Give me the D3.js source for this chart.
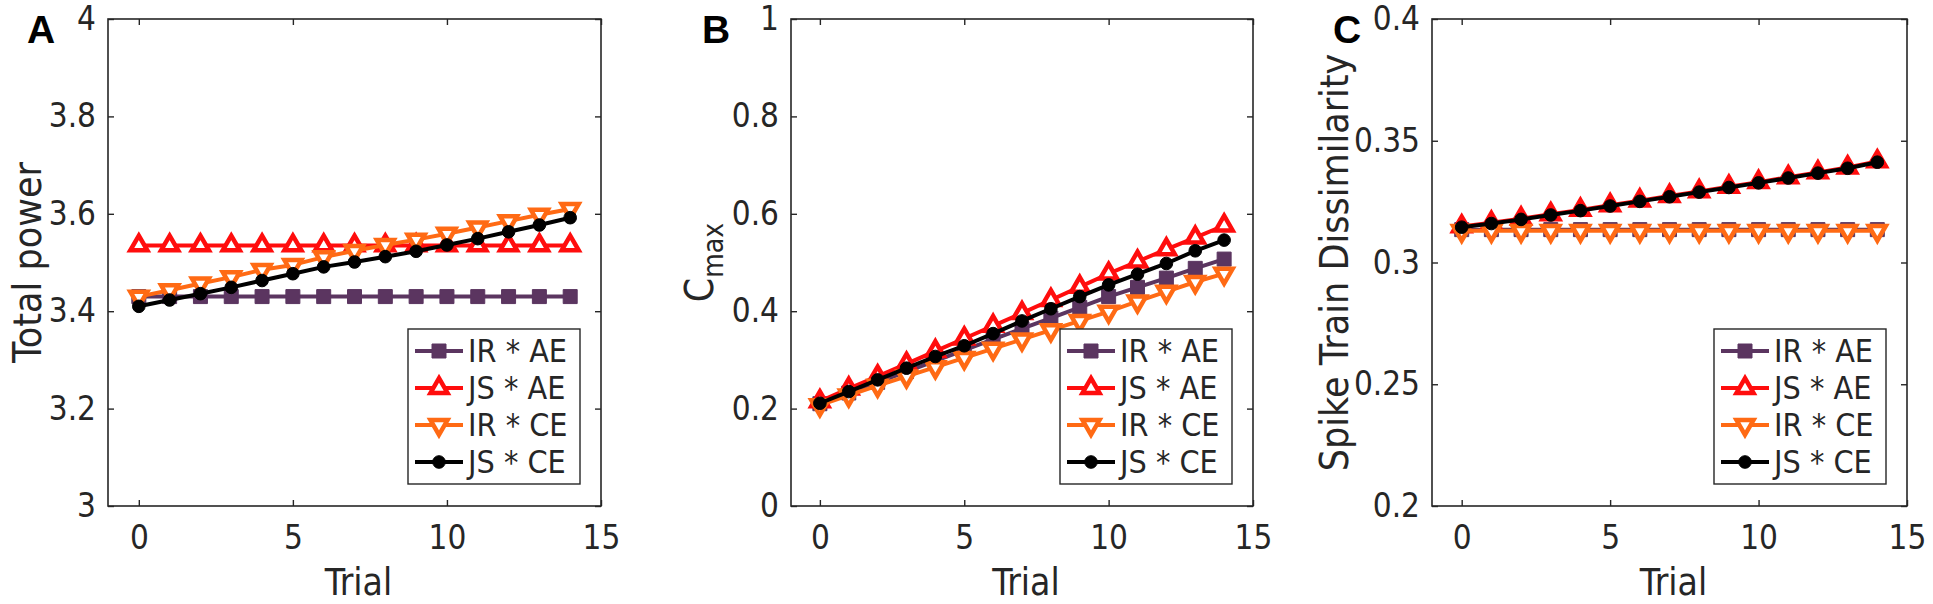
<!DOCTYPE html>
<html><head><meta charset="utf-8">
<script src="https://cdn.jsdelivr.net/npm/d3@7"></script>
<style>
body{margin:0;background:#fff;}
svg{display:block;}
text{font-family:"DejaVu Sans Condensed","DejaVu Sans",sans-serif;font-stretch:condensed;fill:#262626;}
.lbl{font-family:"Liberation Sans",Arial,sans-serif;font-weight:bold;fill:#000;font-stretch:normal;}
</style></head>
<body><svg id="c" width="1933" height="604"></svg>
<script>
// ---- data ----
const trials = [0,1,2,3,4,5,6,7,8,9,10,11,12,13,14];
const seriesNames = ["IR * AE","JS * AE","IR * CE","JS * CE"];
const seriesColors = ["#5b3560","#ff0d0d","#ff6a14","#000000"];
const seriesMarkers = ["square","triangleUp","triangleDown","circle"];

// Panel A: Total power
const powerIRAE = [3.43,3.43,3.43,3.43,3.43,3.43,3.43,3.43,3.43,3.43,3.43,3.43,3.43,3.43,3.43];
const powerJSAE = [3.535,3.535,3.535,3.535,3.535,3.535,3.535,3.535,3.535,3.535,3.535,3.535,3.535,3.535,3.535];
const powerIRCE = [3.43,3.443,3.457,3.47,3.485,3.495,3.511,3.524,3.536,3.547,3.559,3.572,3.585,3.598,3.61];
const powerJSCE = [3.41,3.423,3.436,3.449,3.463,3.477,3.491,3.501,3.512,3.523,3.536,3.549,3.563,3.577,3.592];

// Panel B: Cmax
const cmaxIRAE = [0.21,0.232,0.254,0.276,0.298,0.32,0.342,0.364,0.386,0.408,0.43,0.449,0.468,0.488,0.507];
const cmaxJSAE = [0.215,0.241,0.266,0.292,0.318,0.344,0.37,0.396,0.423,0.45,0.477,0.502,0.527,0.551,0.576];
const cmaxIRCE = [0.207,0.227,0.247,0.266,0.285,0.304,0.323,0.342,0.361,0.38,0.399,0.42,0.44,0.46,0.477];
const cmaxJSCE = [0.211,0.235,0.259,0.283,0.307,0.329,0.354,0.38,0.405,0.43,0.454,0.476,0.498,0.524,0.546];

// Panel C: Spike train dissimilarity
const stdIRAE = [0.3135,0.3135,0.3135,0.3135,0.3135,0.3135,0.3135,0.3135,0.3135,0.3135,0.3135,0.3135,0.3135,0.3135,0.3135];
const stdJSAE = [0.3148,0.3163,0.318,0.3198,0.3216,0.3235,0.3254,0.3273,0.3292,0.3311,0.333,0.335,0.337,0.339,0.3415];
const stdIRCE = [0.313,0.313,0.313,0.313,0.313,0.313,0.313,0.313,0.313,0.313,0.313,0.313,0.313,0.313,0.313];
const stdJSCE = [0.3145,0.316,0.3177,0.3195,0.3213,0.3232,0.3251,0.327,0.3289,0.3308,0.3327,0.3347,0.3367,0.3387,0.3412];

const xTicks = [0,5,10,15];
const yTicksA = [3,3.2,3.4,3.6,3.8,4];
const yTickLabelsA = ["3","3.2","3.4","3.6","3.8","4"];
const yTicksB = [0,0.2,0.4,0.6,0.8,1];
const yTickLabelsB = ["0","0.2","0.4","0.6","0.8","1"];
const yTicksC = [0.2,0.25,0.3,0.35,0.4];
const yTickLabelsC = ["0.2","0.25","0.3","0.35","0.4"];

// ---- layout ----
const plotTop = 19, plotBottom = 506;
const panels = [
  {letter:"A", left:108, right:601, yDom:[3,4], yt:yTicksA, ytl:yTickLabelsA,
   data:[powerIRAE,powerJSAE,powerIRCE,powerJSCE], ylab:"Total power", ylabX:41, letterX:27},
  {letter:"B", left:791, right:1253, yDom:[0,1], yt:yTicksB, ytl:yTickLabelsB,
   data:[cmaxIRAE,cmaxJSAE,cmaxIRCE,cmaxJSCE], ylab:"Cmax", ylabX:713, letterX:702},
  {letter:"C", left:1432, right:1907, yDom:[0.2,0.4], yt:yTicksC, ytl:yTickLabelsC,
   data:[stdIRAE,stdJSAE,stdIRCE,stdJSCE], ylab:"Spike Train Dissimilarity", ylabX:1348, letterX:1333}
];

const svg = d3.select("#c");
const axisColor = "#262626";

function markerPath(type){
  if(type==="square") return d3.symbol(d3.symbolSquare, 196)();
  if(type==="circle") return d3.symbol(d3.symbolCircle, 125)();
  return d3.symbol(d3.symbolTriangle, 125)();
}
function drawMarker(g, type, color, x, y){
  const p = g.append("path").attr("d", markerPath(type))
    .attr("transform", `translate(${x},${y})` + (type==="triangleDown" ? " rotate(180)" : ""));
  if(type==="square"||type==="circle"){
    p.attr("fill", color).attr("stroke", color).attr("stroke-width", 1);
  } else {
    p.attr("fill", "#fff").attr("stroke", color).attr("stroke-width", 4.5).attr("stroke-linejoin","miter");
  }
}

panels.forEach(P => {
  const x = d3.scaleLinear().domain([-1,15]).range([P.left,P.right]);
  const y = d3.scaleLinear().domain(P.yDom).range([plotBottom,plotTop]);
  const g = svg.append("g");

  P.data.forEach((vals,i) => {
    const line = d3.line().x((d,j)=>x(trials[j])).y(d=>y(d));
    g.append("path").datum(vals).attr("d", line).attr("fill","none")
      .attr("stroke", seriesColors[i]).attr("stroke-width", 4).attr("stroke-linejoin","round");
    vals.forEach((v,j) => drawMarker(g, seriesMarkers[i], seriesColors[i], x(trials[j]), y(v)));
  });

  const tl = 6;
  const ax = svg.append("g");
  ax.append("g").attr("transform",`translate(0,${plotBottom})`)
    .call(d3.axisBottom(x).tickValues(xTicks).tickSize(-tl).tickPadding(20).tickFormat(d3.format("d")));
  ax.append("g").attr("transform",`translate(0,${plotTop})`)
    .call(d3.axisTop(x).tickValues(xTicks).tickSize(-tl).tickFormat(""));
  ax.append("g").attr("transform",`translate(${P.left},0)`)
    .call(d3.axisLeft(y).tickValues(P.yt).tickSize(-tl).tickPadding(12).tickFormat((d,i)=>P.ytl[i]));
  ax.append("g").attr("transform",`translate(${P.right},0)`)
    .call(d3.axisRight(y).tickValues(P.yt).tickSize(-tl).tickFormat(""));
  ax.selectAll(".tick line").attr("stroke", axisColor).attr("stroke-width",1.4);
  ax.selectAll(".tick text").attr("fill", axisColor).style("font-size","33px")
    .style("font-family",'"DejaVu Sans Condensed","DejaVu Sans",sans-serif');
  ax.selectAll("path.domain").remove();
  ax.append("rect").attr("x",P.left).attr("y",plotTop).attr("width",P.right-P.left).attr("height",plotBottom-plotTop)
    .attr("fill","none").attr("stroke",axisColor).attr("stroke-width",1.6);

  svg.append("text").attr("x",(P.left+P.right)/2 + 4).attr("y",595).attr("text-anchor","middle")
    .style("font-size","37px").text("Trial");

  const yl = svg.append("text").attr("transform",`translate(${P.ylabX},${(plotTop+plotBottom)/2}) rotate(-90)`)
    .attr("text-anchor","middle").style("font-size","39px");
  if(P.ylab==="Cmax"){
    yl.append("tspan").text("C");
    yl.append("tspan").attr("dy",10).style("font-size","28px").text("max");
  } else yl.text(P.ylab);

  svg.append("text").attr("class","lbl").attr("x",P.letterX).attr("y",43).style("font-size","39px").text(P.letter);

  const lw = 172, lh = 155, lx = P.right - 21 - lw, ly = 329;
  const lg = svg.append("g");
  lg.append("rect").attr("x",lx).attr("y",ly).attr("width",lw).attr("height",lh)
    .attr("fill","#fff").attr("stroke",axisColor).attr("stroke-width",1.4);
  seriesNames.forEach((nm,i) => {
    const ry = ly + 22 + i*37;
    lg.append("line").attr("x1",lx+7).attr("x2",lx+55).attr("y1",ry).attr("y2",ry)
      .attr("stroke",seriesColors[i]).attr("stroke-width",4);
    drawMarker(lg, seriesMarkers[i], seriesColors[i], lx+31, ry);
    lg.append("text").attr("x",lx+60).attr("y",ry+11).style("font-size","32px").text(nm);
  });
});
</script></body></html>
